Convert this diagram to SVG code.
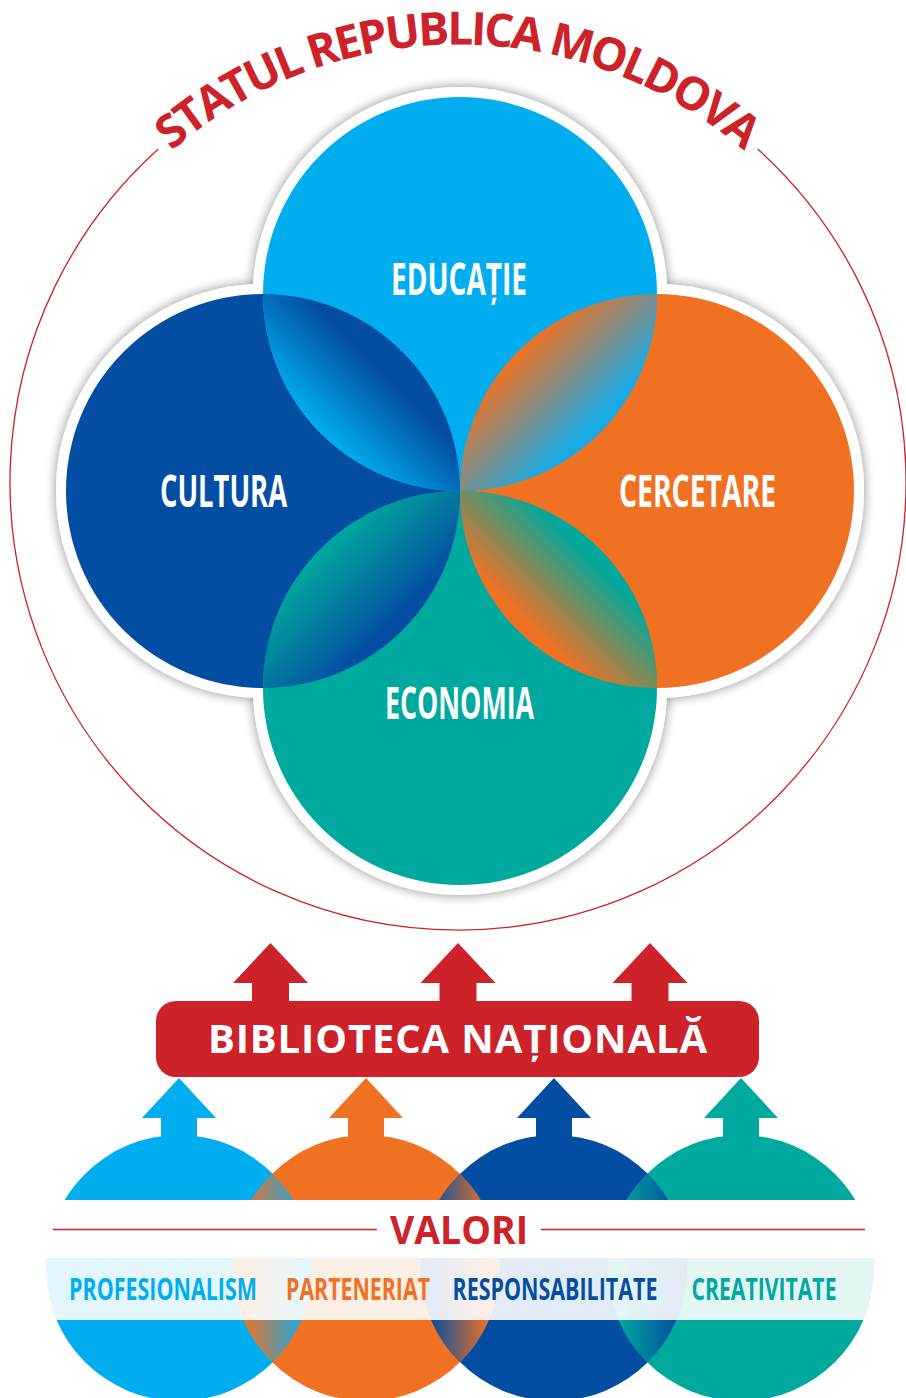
<svg xmlns="http://www.w3.org/2000/svg" width="906" height="1398" viewBox="0 0 906 1398">
<style>
.lbl{font-family:"Open Sans","Liberation Sans",sans-serif;font-weight:700;fill:#fff;text-anchor:middle}
.val{font-family:"Open Sans","Liberation Sans",sans-serif;font-weight:700;text-anchor:middle;font-size:30px}
.red{fill:#CD2229}
</style>
<defs>
<filter id="sh" x="-20%" y="-20%" width="140%" height="140%">
<feGaussianBlur in="SourceAlpha" stdDeviation="6"/>
<feComponentTransfer><feFuncA type="linear" slope="0.45"/></feComponentTransfer>
<feMerge><feMergeNode/><feMergeNode in="SourceGraphic"/></feMerge>
</filter>
<linearGradient id="gTL" gradientUnits="userSpaceOnUse" x1="320.7" y1="433.3" x2="402.3" y2="351.7"><stop offset="0" stop-color="#00AEEF"/><stop offset="0.75" stop-color="#034EA2"/></linearGradient>
<linearGradient id="gTR" gradientUnits="userSpaceOnUse" x1="517.7" y1="351.7" x2="599.3" y2="433.3"><stop offset="0" stop-color="#F07122"/><stop offset="0.9" stop-color="#1AA9E3"/></linearGradient>
<linearGradient id="gBL" gradientUnits="userSpaceOnUse" x1="320.7" y1="548.7" x2="402.3" y2="630.3"><stop offset="0" stop-color="#00A99D"/><stop offset="0.9" stop-color="#034EA2"/></linearGradient>
<linearGradient id="gBR" gradientUnits="userSpaceOnUse" x1="517.7" y1="630.3" x2="599.3" y2="548.7"><stop offset="0.1" stop-color="#F07122"/><stop offset="0.9" stop-color="#00A99D"/></linearGradient>
<linearGradient id="b12" gradientUnits="userSpaceOnUse" x1="236" y1="0" x2="309" y2="0"><stop offset="0.1" stop-color="#F07122"/><stop offset="0.9" stop-color="#1AA9E3"/></linearGradient>
<linearGradient id="b23" gradientUnits="userSpaceOnUse" x1="423" y1="0" x2="496" y2="0"><stop offset="0.1" stop-color="#034EA2"/><stop offset="0.9" stop-color="#F07122"/></linearGradient>
<linearGradient id="b34" gradientUnits="userSpaceOnUse" x1="611" y1="0" x2="684" y2="0"><stop offset="0.1" stop-color="#00A99D"/><stop offset="0.9" stop-color="#034EA2"/></linearGradient>
<path id="arcT" d="M 79 263 A 438 438 0 0 1 837 263"/>
</defs>
<rect width="906" height="1398" fill="#fff"/>

<g id="statul">
<path d="M 158.3 149.1 A 448 448 0 1 0 757.7 149.1" fill="none" stroke="#CD2229" stroke-width="1.3"/>
<text class="red" font-family="'Open Sans','Liberation Sans',sans-serif" font-weight="700" font-size="46" text-anchor="middle"><textPath href="#arcT" startOffset="50%" textLength="624" lengthAdjust="spacing">STATUL REPUBLICA MOLDOVA</textPath></text>
</g>

<g id="halo" filter="url(#sh)" fill="#fff">
<circle cx="460" cy="294" r="207"/>
<circle cx="263" cy="491" r="207"/>
<circle cx="657" cy="491" r="207"/>
<circle cx="460" cy="688" r="207"/>
</g>
<g id="cultura"><circle cx="263" cy="491" r="197" fill="#034EA2"/></g>
<g id="cercetare"><circle cx="657" cy="491" r="197" fill="#F07122"/></g>
<g id="educatie"><circle cx="460" cy="294" r="197" fill="#00AEEF"/></g>
<g id="economia"><circle cx="460" cy="688" r="197" fill="#00A99D"/></g>
<g id="lenses">
<path d="M 263 294 A 197 197 0 0 0 460 491 A 197 197 0 0 0 263 294 Z" fill="url(#gTL)"/>
<path d="M 460 491 A 197 197 0 0 1 657 294 A 197 197 0 0 1 460 491 Z" fill="url(#gTR)"/>
<path d="M 263 688 A 197 197 0 0 1 460 491 A 197 197 0 0 1 263 688 Z" fill="url(#gBL)"/>
<path d="M 460 491 A 197 197 0 0 0 657 688 A 197 197 0 0 0 460 491 Z" fill="url(#gBR)"/>
</g>
<g id="labels">
<text class="lbl" x="459" y="295" font-size="44" textLength="136" lengthAdjust="spacingAndGlyphs">EDUCAȚIE</text>
<text class="lbl" x="223.5" y="507" font-size="44" textLength="127" lengthAdjust="spacingAndGlyphs">CULTURA</text>
<text class="lbl" x="697.5" y="507" font-size="44" textLength="157" lengthAdjust="spacingAndGlyphs">CERCETARE</text>
<text class="lbl" x="459.5" y="719" font-size="44" textLength="149" lengthAdjust="spacingAndGlyphs">ECONOMIA</text>
</g>

<g id="connectors">
<path class="red" d="M270.5 943 L308 983 L289 983 L289 1005 L252 1005 L252 983 L233 983 Z"/>
<path class="red" d="M458 943 L495.5 983 L476.5 983 L476.5 1005 L439.5 1005 L439.5 983 L420.5 983 Z"/>
<path class="red" d="M650 943 L687.5 983 L668.5 983 L668.5 1005 L631.5 1005 L631.5 983 L612.5 983 Z"/>
<path fill="#00AEEF" d="M179 1078 L216 1118 L197 1118 L197 1145 L161 1145 L161 1118 L142 1118 Z"/>
<path fill="#F07122" d="M366 1078 L403 1118 L384 1118 L384 1145 L348 1145 L348 1118 L329 1118 Z"/>
<path fill="#034EA2" d="M554 1078 L591 1118 L572 1118 L572 1145 L536 1145 L536 1118 L517 1118 Z"/>
<path fill="#00A99D" d="M741 1078 L778 1118 L759 1118 L759 1145 L723 1145 L723 1118 L704 1118 Z"/>
</g>

<g id="biblioteca">
<rect class="red" x="156" y="1001" width="603" height="76" rx="20"/>
<text class="lbl" x="457.5" y="1053" font-size="40" textLength="499" lengthAdjust="spacing">BIBLIOTECA NAȚIONALĂ</text>
</g>

<g id="valori-circles">
<g id="profesionalism"><circle cx="179" cy="1268" r="133" fill="#00AEEF"/></g>
<g id="parteneriat"><circle cx="366" cy="1268" r="133" fill="#F07122"/></g>
<g id="responsabilitate"><circle cx="554" cy="1268" r="133" fill="#034EA2"/></g>
<g id="creativitate"><circle cx="741" cy="1268" r="133" fill="#00A99D"/></g>
<path d="M 272.5 1173.4 A 133 133 0 0 1 272.5 1362.6 A 133 133 0 0 1 272.5 1173.4 Z" fill="url(#b12)"/>
<path d="M 460 1173.4 A 133 133 0 0 1 460 1362.6 A 133 133 0 0 1 460 1173.4 Z" fill="url(#b23)"/>
<path d="M 647.5 1173.4 A 133 133 0 0 1 647.5 1362.6 A 133 133 0 0 1 647.5 1173.4 Z" fill="url(#b34)"/>
<rect x="0" y="1200" width="906" height="58" fill="#fff"/>
<rect x="0" y="1258" width="906" height="62" fill="#fff" opacity="0.89"/>
</g>

<g id="valori">
<line x1="53" y1="1229.5" x2="377" y2="1229.5" stroke="#CD2229" stroke-width="1.5"/>
<line x1="541" y1="1229.5" x2="865" y2="1229.5" stroke="#CD2229" stroke-width="1.5"/>
<text class="lbl red" x="459" y="1244" font-size="39" textLength="138" lengthAdjust="spacingAndGlyphs">VALORI</text>
<text class="val" x="163" y="1300" fill="#00AEEF" textLength="188" lengthAdjust="spacingAndGlyphs">PROFESIONALISM</text>
<text class="val" x="358" y="1300" fill="#F07122" textLength="144" lengthAdjust="spacingAndGlyphs">PARTENERIAT</text>
<text class="val" x="555" y="1300" fill="#034EA2" textLength="205" lengthAdjust="spacingAndGlyphs">RESPONSABILITATE</text>
<text class="val" x="764" y="1300" fill="#00A99D" textLength="145" lengthAdjust="spacingAndGlyphs">CREATIVITATE</text>
</g>
</svg>
